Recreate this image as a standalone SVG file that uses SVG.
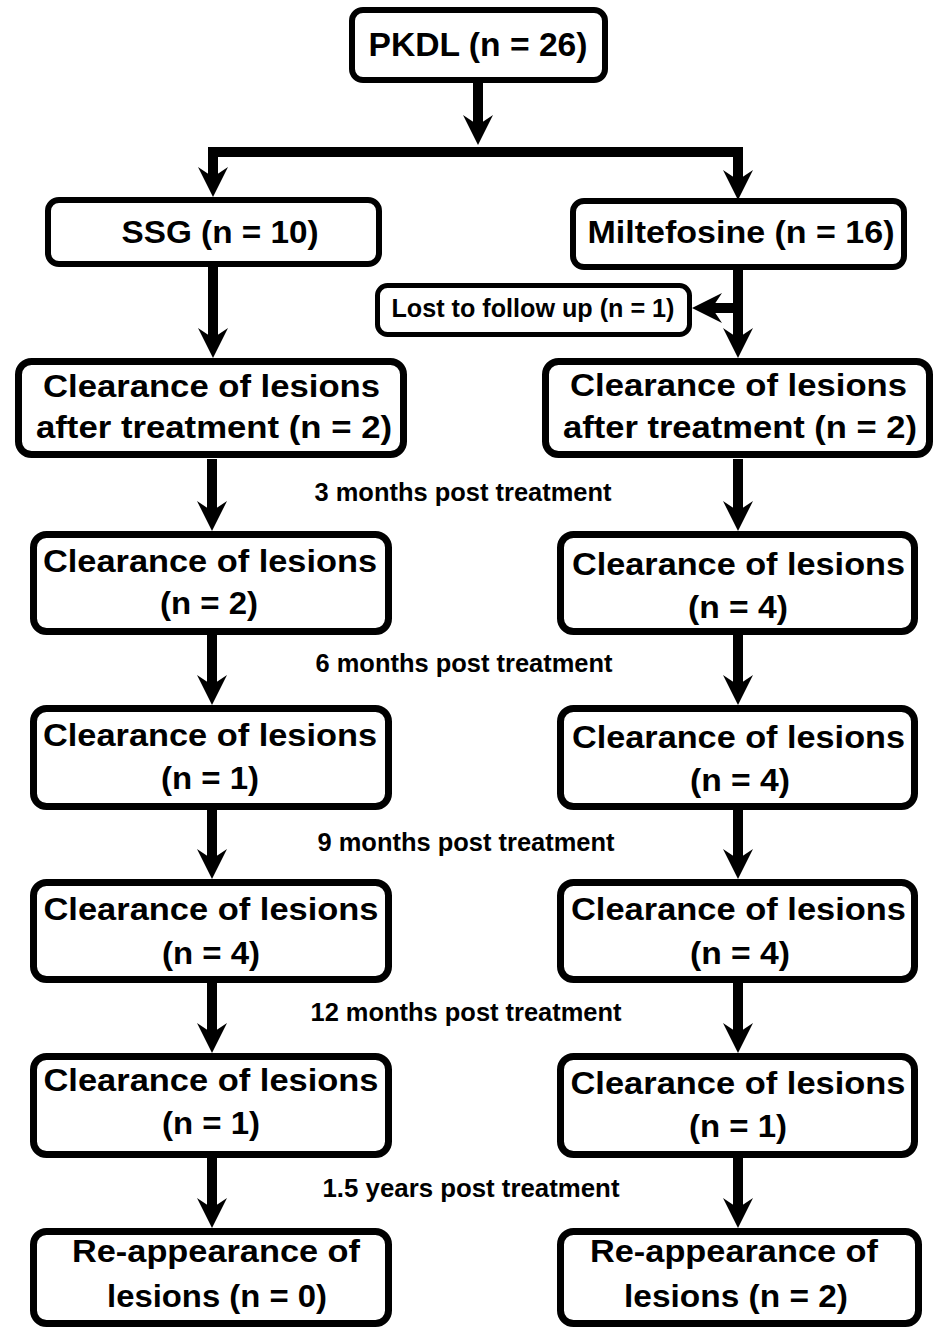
<svg xmlns="http://www.w3.org/2000/svg" width="935" height="1329" viewBox="0 0 935 1329">
<defs>
<style>
.box{fill:#fff;stroke:#000;stroke-width:7}
.thin{stroke-width:6}
.t{font-family:"Liberation Sans",Arial,sans-serif;font-weight:bold;font-size:32px;fill:#000;text-anchor:middle}
.s{font-size:26px}
.lbl{font-family:"Liberation Sans",Arial,sans-serif;font-weight:bold;font-size:26px;fill:#000;text-anchor:middle}
.c{fill:none;stroke:#000;stroke-width:10;stroke-linejoin:miter}
</style>
<marker id="ah" viewBox="0 0 30 30" refX="10" refY="15" markerWidth="30" markerHeight="30" markerUnits="userSpaceOnUse" orient="auto-start-reverse">
<path d="M0,0 L30,15 L0,30 L10,15 Z" fill="#000"/>
</marker>
</defs>
<rect width="935" height="1329" fill="#fff"/>

<g id="connectors">
<path class="c" d="M478,83 V125" marker-end="url(#ah)"/>
<path class="c" d="M213,177 V152 H738 V180" marker-start="url(#ah)" marker-end="url(#ah)"/>
<path class="c" d="M213,267 V338" marker-end="url(#ah)"/>
<path class="c" d="M738,270 V338" marker-end="url(#ah)"/>
<path class="c" d="M738,308 H712" marker-end="url(#ah)"/>
<path class="c" d="M212,459 V511" marker-end="url(#ah)"/>
<path class="c" d="M738,459 V511" marker-end="url(#ah)"/>
<path class="c" d="M212,635 V685" marker-end="url(#ah)"/>
<path class="c" d="M738,635 V685" marker-end="url(#ah)"/>
<path class="c" d="M212,810 V859" marker-end="url(#ah)"/>
<path class="c" d="M738,810 V859" marker-end="url(#ah)"/>
<path class="c" d="M212,983 V1033" marker-end="url(#ah)"/>
<path class="c" d="M738,983 V1033" marker-end="url(#ah)"/>
<path class="c" d="M212,1158 V1208" marker-end="url(#ah)"/>
<path class="c" d="M738,1158 V1208" marker-end="url(#ah)"/>
</g>

<g id="labels">
<text class="lbl" x="463" y="501" textLength="297" lengthAdjust="spacingAndGlyphs">3 months post treatment</text>
<text class="lbl" x="464" y="672" textLength="297" lengthAdjust="spacingAndGlyphs">6 months post treatment</text>
<text class="lbl" x="466" y="851" textLength="297" lengthAdjust="spacingAndGlyphs">9 months post treatment</text>
<text class="lbl" x="466" y="1021" textLength="311" lengthAdjust="spacingAndGlyphs">12 months post treatment</text>
<text class="lbl" x="471" y="1197" textLength="297" lengthAdjust="spacingAndGlyphs">1.5 years post treatment</text>
</g>

<g id="pkdl">
<rect class="box thin" x="352" y="10" width="253" height="70" rx="11"/>
<text class="t" x="478" y="56" style="font-size:33px" textLength="219" lengthAdjust="spacingAndGlyphs">PKDL (n = 26)</text>
</g>

<g id="ssg">
<rect class="box thin" x="48" y="200" width="331" height="64" rx="11"/>
<text class="t" x="220" y="243" textLength="197" lengthAdjust="spacingAndGlyphs">SSG (n = 10)</text>
</g>

<g id="miltefosine">
<rect class="box thin" x="573" y="201" width="331" height="66" rx="11"/>
<text class="t" x="741" y="243" textLength="307" lengthAdjust="spacingAndGlyphs">Miltefosine (n = 16)</text>
</g>

<g id="lost">
<rect class="box" style="stroke-width:5" x="377.5" y="285.5" width="312" height="49" rx="10"/>
<text class="t s" x="533" y="317" textLength="283" lengthAdjust="spacingAndGlyphs">Lost to follow up (n = 1)</text>
</g>

<g id="ssg-after">
<rect class="box" x="18.5" y="361.5" width="385" height="93" rx="13"/>
<text class="t" x="211.5" y="397" textLength="337" lengthAdjust="spacingAndGlyphs">Clearance of lesions</text>
<text class="t" x="214" y="438" textLength="356" lengthAdjust="spacingAndGlyphs">after treatment (n = 2)</text>
</g>

<g id="mil-after">
<rect class="box" x="545.5" y="361.5" width="384" height="93" rx="13"/>
<text class="t" x="738.5" y="396" textLength="337" lengthAdjust="spacingAndGlyphs">Clearance of lesions</text>
<text class="t" x="740" y="438" textLength="354" lengthAdjust="spacingAndGlyphs">after treatment (n = 2)</text>
</g>

<g id="ssg-3m">
<rect class="box" x="33.5" y="534.5" width="355" height="97" rx="13"/>
<text class="t" x="210" y="572" textLength="334" lengthAdjust="spacingAndGlyphs">Clearance of lesions</text>
<text class="t" x="209" y="614" textLength="98" lengthAdjust="spacingAndGlyphs">(n = 2)</text>
</g>

<g id="mil-3m">
<rect class="box" x="560.5" y="534.5" width="354" height="97" rx="13"/>
<text class="t" x="738.5" y="575" textLength="333" lengthAdjust="spacingAndGlyphs">Clearance of lesions</text>
<text class="t" x="738" y="618" textLength="100" lengthAdjust="spacingAndGlyphs">(n = 4)</text>
</g>

<g id="ssg-6m">
<rect class="box" x="33.5" y="708.5" width="355" height="98" rx="13"/>
<text class="t" x="210" y="746" textLength="334" lengthAdjust="spacingAndGlyphs">Clearance of lesions</text>
<text class="t" x="210" y="789" textLength="98" lengthAdjust="spacingAndGlyphs">(n = 1)</text>
</g>

<g id="mil-6m">
<rect class="box" x="560.5" y="708.5" width="354" height="98" rx="13"/>
<text class="t" x="738.5" y="748" textLength="333" lengthAdjust="spacingAndGlyphs">Clearance of lesions</text>
<text class="t" x="740" y="791" textLength="100" lengthAdjust="spacingAndGlyphs">(n = 4)</text>
</g>

<g id="ssg-9m">
<rect class="box" x="33.5" y="882.5" width="355" height="97" rx="13"/>
<text class="t" x="211" y="920" textLength="335" lengthAdjust="spacingAndGlyphs">Clearance of lesions</text>
<text class="t" x="211" y="964" textLength="98" lengthAdjust="spacingAndGlyphs">(n = 4)</text>
</g>

<g id="mil-9m">
<rect class="box" x="560.5" y="882.5" width="354" height="97" rx="13"/>
<text class="t" x="738.5" y="920" textLength="335" lengthAdjust="spacingAndGlyphs">Clearance of lesions</text>
<text class="t" x="740" y="964" textLength="100" lengthAdjust="spacingAndGlyphs">(n = 4)</text>
</g>

<g id="ssg-12m">
<rect class="box" x="33.5" y="1056.5" width="355" height="98" rx="13"/>
<text class="t" x="211" y="1091" textLength="335" lengthAdjust="spacingAndGlyphs">Clearance of lesions</text>
<text class="t" x="211" y="1134" textLength="98" lengthAdjust="spacingAndGlyphs">(n = 1)</text>
</g>

<g id="mil-12m">
<rect class="box" x="560.5" y="1056.5" width="354" height="98" rx="13"/>
<text class="t" x="738" y="1094" textLength="335" lengthAdjust="spacingAndGlyphs">Clearance of lesions</text>
<text class="t" x="738" y="1137" textLength="98" lengthAdjust="spacingAndGlyphs">(n = 1)</text>
</g>

<g id="ssg-18m">
<rect class="box" x="33.5" y="1231.5" width="355" height="92" rx="13"/>
<text class="t" x="216" y="1262" textLength="288" lengthAdjust="spacingAndGlyphs">Re-appearance of</text>
<text class="t" x="217" y="1307" textLength="220" lengthAdjust="spacingAndGlyphs">lesions (n = 0)</text>
</g>

<g id="mil-18m">
<rect class="box" x="560.5" y="1231.5" width="358" height="92" rx="13"/>
<text class="t" x="734" y="1262" textLength="288" lengthAdjust="spacingAndGlyphs">Re-appearance of</text>
<text class="t" x="736" y="1307" textLength="224" lengthAdjust="spacingAndGlyphs">lesions (n = 2)</text>
</g>
</svg>
